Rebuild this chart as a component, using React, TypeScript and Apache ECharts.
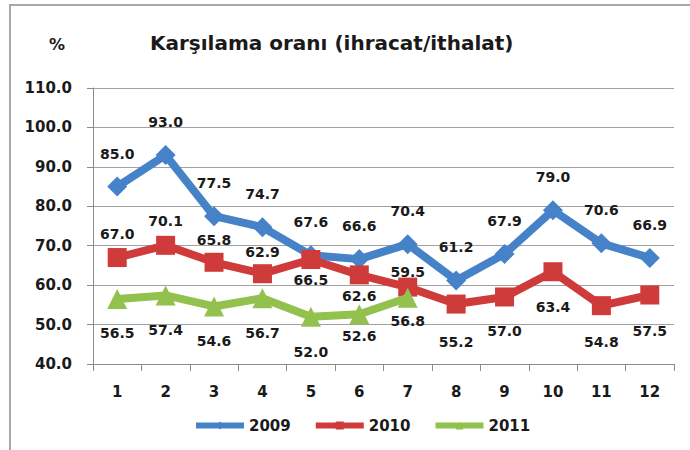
import React, { useEffect, useRef } from "react";
import * as echarts from "echarts";

const months = ["1", "2", "3", "4", "5", "6", "7", "8", "9", "10", "11", "12"];
const values2009 = [85.0, 93.0, 77.5, 74.7, 67.6, 66.6, 70.4, 61.2, 67.9, 79.0, 70.6, 66.9];
const values2010 = [67.0, 70.1, 65.8, 62.9, 66.5, 62.6, 59.5, 55.2, 57.0, 63.4, 54.8, 57.5];
const values2011 = [56.5, 57.4, 54.6, 56.7, 52.0, 52.6, 56.8];
const seriesNames = ["2009", "2010", "2011"];
const titleText = "Karşılama oranı (ihracat/ithalat)";
const unitText = "%";

// label styling (placement only)
const place2010 = ["top", "top", "top", "top", "bottom", "bottom", "top", "bottom", "bottom", "bottom", "bottom", "bottom"];
const dist2010 = [7, 8, 6, 5, 4, 5, -1, 21, 18, 19, 20, 19];
const dist2011 = [17, 18, 18, 18, 18, 5, 6];

const FONT = "DejaVu Sans";
const BLUE = "#4682c8";
const RED = "#cf3b3b";
const GREEN = "#92c14d";

export default function App() {
  const ref = useRef<HTMLDivElement>(null);
  useEffect(() => {
    if (!ref.current) return;
    const chart = echarts.init(ref.current, undefined, { renderer: "svg" });
    const labelBase = {
      show: true,
      fontFamily: FONT,
      fontWeight: "bold" as const,
      fontSize: 14,
      color: "#1a1a1a",
      formatter: (p: any) => Number(p.value).toFixed(1),
    };
    chart.setOption({
      animation: false,
      backgroundColor: "#ffffff",
      textStyle: { fontFamily: FONT },
      graphic: [
        {
          type: "rect",
          shape: { x: 10, y: 5, width: 700, height: 470 },
          style: { fill: "none", stroke: "#a8a8a8", lineWidth: 2 },
          silent: true,
        },
        {
          type: "text",
          left: 49,
          top: 36,
          style: { text: unitText, font: `bold 16px "${FONT}"`, fill: "#1a1a1a" },
        },
        {
          type: "text",
          left: 150,
          top: 33,
          style: { text: titleText, font: `bold 20px "${FONT}"`, fill: "#1a1a1a" },
        },
      ],
      grid: { left: 93, right: 16, top: 88, bottom: 86, containLabel: false },
      legend: {
        left: 188,
        top: 413,
        itemWidth: 48,
        itemHeight: 10,
        itemGap: 22,
        lineStyle: { width: 6 },
        textStyle: { fontFamily: FONT, fontWeight: "bold", fontSize: 15, color: "#1a1a1a" },
        data: seriesNames,
      },
      xAxis: {
        type: "category",
        data: months,
        boundaryGap: true,
        axisLine: { show: true, lineStyle: { color: "#8c8c8c", width: 1 } },
        axisTick: { show: true, length: 7, inside: false, lineStyle: { color: "#8c8c8c" } },
        axisLabel: { fontFamily: FONT, fontWeight: "bold", fontSize: 15, color: "#1a1a1a", margin: 20 },
        splitLine: { show: false },
      },
      yAxis: {
        type: "value",
        min: 40,
        max: 110,
        interval: 10,
        axisLine: { show: true, lineStyle: { color: "#8c8c8c", width: 1 } },
        axisTick: { show: true, length: 6, inside: false, lineStyle: { color: "#8c8c8c" } },
        axisLabel: {
          fontFamily: FONT,
          fontWeight: "bold",
          fontSize: 15,
          color: "#1a1a1a",
          margin: 21,
          formatter: (v: number) => v.toFixed(1),
        },
        splitLine: { show: true, lineStyle: { color: "#a0a0a0", width: 1 } },
      },
      series: [
        {
          name: seriesNames[0],
          type: "line",
          data: values2009,
          symbol: "diamond",
          symbolSize: 20,
          itemStyle: { color: BLUE },
          lineStyle: { color: BLUE, width: 8 },
          label: { ...labelBase, position: "top", distance: 16 },
          z: 3,
        },
        {
          name: seriesNames[1],
          type: "line",
          data: values2010.map((v, i) => ({
            value: v,
            label: { position: place2010[i], distance: dist2010[i] },
          })),
          symbol: "rect",
          symbolSize: 19,
          itemStyle: { color: RED },
          lineStyle: { color: RED, width: 8 },
          label: { ...labelBase },
          z: 4,
        },
        {
          name: seriesNames[2],
          type: "line",
          data: values2011.map((v, i) => ({
            value: v,
            label: { position: "bottom", distance: dist2011[i] },
          })),
          symbol: "triangle",
          symbolSize: 20,
          itemStyle: { color: GREEN },
          lineStyle: { color: GREEN, width: 8 },
          label: { ...labelBase },
          z: 5,
        },
      ],
    });
    return () => chart.dispose();
  }, []);
  return (
    <div
      ref={ref}
      style={{ position: "absolute", left: 0, top: 0, width: 690, height: 450, background: "#fff" }}
    />
  );
}
